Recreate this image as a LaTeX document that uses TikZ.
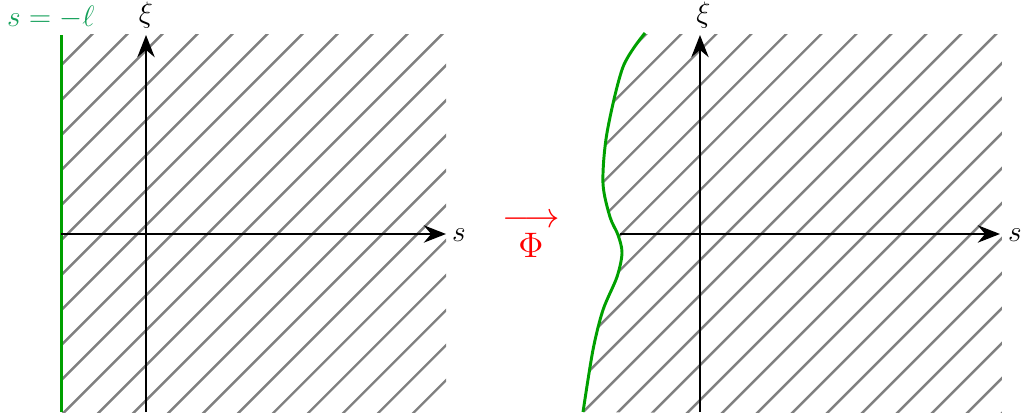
\documentclass[tikz,border=0pt]{standalone}
\usepackage{amsmath,amssymb}
\usepackage{tikz}
\usetikzlibrary{arrows.meta}
\definecolor{lblgreen}{RGB}{20,160,90}
\definecolor{bdrygreen}{RGB}{0,160,0}

\begin{document}
\begin{tikzpicture}[
    axis/.style={line width=1.2pt,-{Stealth[length=9pt,width=7pt]}},
    hatch/.style={black!50,line width=1pt},
    bdry/.style={bdrygreen,line width=1.2pt},
    lbl/.style={font=\large}]
  \useasboundingbox (-2.086,-2.629) rectangle (12.557,3.343);
  % the half-plane s > -l
  \begin{scope}
    \begin{scope}
      \clip (-1.214,-2.543) rectangle (4.286,2.843);
      \foreach \c in {-4.125,-3.625,...,6.9}
        \draw[hatch] (\c-3,-3) -- (\c+3,3);
    \end{scope}
    \coordinate (lb) at (-1.214,-2.543);
    \coordinate (lt) at (-1.214,2.843);
    \coordinate (xl0) at (-1.214,0);
    \coordinate (xl1) at (4.286,0);
    \coordinate (yl0) at (0,-2.543);
    \coordinate (yl1) at (0,2.843);
    \draw[bdry] (lb) -- (lt);
    \draw[axis] (xl0) -- (xl1);
    \draw[axis] (yl0) -- (yl1);
    \node[lbl] (sl) at (4.47,-0.02) {$s$};
    \node[lbl] (xil) at (0,3.12) {$\xi$};
    \node[lbl,text=lblgreen] (ell) at (-1.36,3.1) {$s=-\ell$};
  \end{scope}
  % the map
  \node[red,font=\Large] (map) at (5.5,0.19) {$\longrightarrow$};
  \node[red,font=\Large] (phi) at (5.5,-0.16) {$\Phi$};
  % the deformed domain
  \begin{scope}[xshift=7.914cm]
    \begin{scope}
      \clip (-2,-2.543) rectangle (4.314,2.843);
      \clip plot[smooth] coordinates {(-1.671,-2.543) (-1.529,-1.657)
        (-1.386,-1.086) (-1.186,-0.614) (-1.114,-0.271) (-1.171,-0.014)
        (-1.286,0.243) (-1.386,0.729) (-1.329,1.443) (-1.1,2.386)
        (-0.786,2.871)} -- (4.4,2.9) -- (4.4,-2.6) -- cycle;
      \foreach \c in {-4.125,-3.625,...,6.9}
        \draw[hatch] (\c-3,-3) -- (\c+3,3);
    \end{scope}
    \draw[bdry] plot[smooth] coordinates {(-1.671,-2.543) (-1.529,-1.657)
      (-1.386,-1.086) (-1.186,-0.614) (-1.114,-0.271) (-1.171,-0.014)
      (-1.286,0.243) (-1.386,0.729) (-1.329,1.443) (-1.1,2.386)
      (-0.786,2.871)};
    \coordinate (xr0) at (-1.143,0);
    \coordinate (xr1) at (4.286,0);
    \coordinate (yr0) at (0,-2.543);
    \coordinate (yr1) at (0,2.843);
    \draw[axis] (xr0) -- (xr1);
    \draw[axis] (yr0) -- (yr1);
    \node[lbl] (sr) at (4.5,-0.02) {$s$};
    \node[lbl] (xir) at (0.05,3.12) {$\xi$};
  \end{scope}
\end{tikzpicture}
\end{document}
